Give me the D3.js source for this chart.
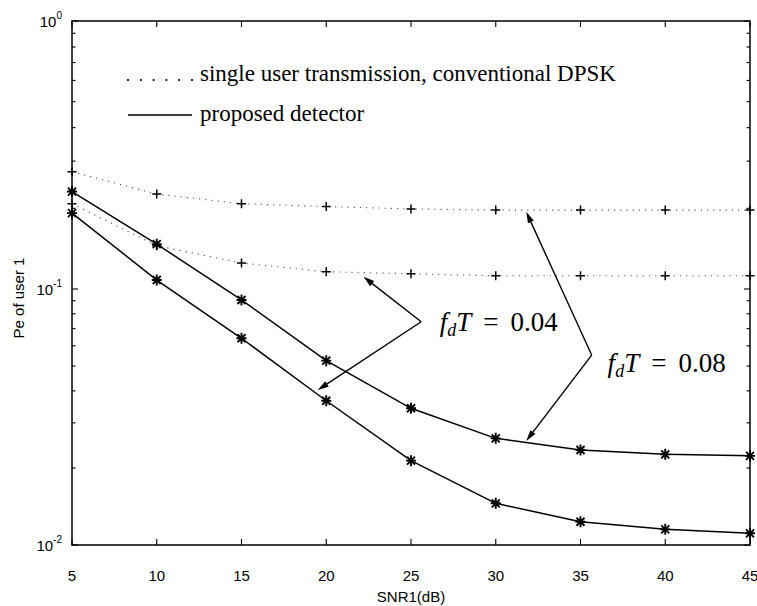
<!DOCTYPE html>
<html>
<head>
<meta charset="utf-8">
<script src="https://cdn.jsdelivr.net/npm/d3@7"></script>
<style>
  body { margin: 0; background: #fff; }
  svg { display: block; }
</style>
</head>
<body>
<svg id="chart" width="757" height="606"></svg>
<script>
// SNR of user 1 (dB)
const snr = [5, 10, 15, 20, 25, 30, 35, 40, 45];

// Bit error probability of user 1
const conventional008 = [0.274, 0.226, 0.208, 0.203, 0.199, 0.197, 0.197, 0.197, 0.197];
const conventional004 = [0.208, 0.145, 0.125, 0.116, 0.114, 0.112, 0.112, 0.112, 0.112];
const proposed008 = [0.231, 0.147, 0.0906, 0.0525, 0.0342, 0.0261, 0.0235, 0.0226, 0.0223];
const proposed004 = [0.192, 0.108, 0.0642, 0.0366, 0.02135, 0.01455, 0.01233, 0.01151, 0.01111];

const xTicks = [5, 10, 15, 20, 25, 30, 35, 40, 45];
const yDecades = [1, 0.1, 0.01];
const yExponents = ["0", "-1", "-2"];
const legendLabels = ["single user transmission, conventional DPSK", "proposed detector"];
const fdValues = ["0.04", "0.08"];

// Callouts, in data units: where the label sits, the elbow, and the two arrow tips
const calloutText = [[26.7, 0.074], [36.6, 0.0514]];
const calloutElbow = [[25.6, 0.0745], [35.66, 0.0552]];
const calloutTips = [
  [[22.2, 0.111], [19.5, 0.0403]],
  [[31.8, 0.194], [31.8, 0.0255]]
];

const svg = d3.select("#chart");
const plotLeft = 72, plotRight = 750, plotTop = 21, plotBottom = 545;

const x = d3.scaleLinear().domain([5, 45]).range([plotLeft, plotRight]);
// log axis; the two decades are laid out one after the other
const y = d3.scaleLog().domain([0.01, 0.1, 1]).range([plotBottom, 289, plotTop]);

const sans = "'Liberation Sans', Arial, Helvetica, sans-serif";
const serif = "'Liberation Serif', 'Times New Roman', serif";

// frame
svg.append("rect")
  .attr("x", plotLeft).attr("y", plotTop)
  .attr("width", plotRight - plotLeft).attr("height", plotBottom - plotTop)
  .attr("fill", "none").attr("stroke", "#000").attr("stroke-width", 1.5);

const ticks = svg.append("g").attr("stroke", "#000").attr("stroke-width", 1.1);

// x ticks, bottom and top, pointing inward
xTicks.forEach(v => {
  const px = x(v);
  ticks.append("line").attr("x1", px).attr("x2", px).attr("y1", plotBottom).attr("y2", plotBottom - 6);
  ticks.append("line").attr("x1", px).attr("x2", px).attr("y1", plotTop).attr("y2", plotTop + 6);
});

// y ticks: decades and minor ticks, on both sides
const minor = [];
[0.01, 0.1].forEach(d => { for (let k = 2; k <= 9; k++) minor.push(d * k); });
yDecades.forEach(v => {
  const py = y(v);
  ticks.append("line").attr("x1", plotLeft).attr("x2", plotLeft + 6).attr("y1", py).attr("y2", py);
  ticks.append("line").attr("x1", plotRight).attr("x2", plotRight - 6).attr("y1", py).attr("y2", py);
});
minor.forEach(v => {
  const py = y(v);
  ticks.append("line").attr("x1", plotLeft).attr("x2", plotLeft + 3.5).attr("y1", py).attr("y2", py);
  ticks.append("line").attr("x1", plotRight).attr("x2", plotRight - 3.5).attr("y1", py).attr("y2", py);
});

// x tick labels
svg.append("g").selectAll("text").data(xTicks).join("text")
  .attr("x", d => x(d)).attr("y", 581)
  .attr("text-anchor", "middle")
  .attr("font-family", sans).attr("font-size", 15)
  .text(d => d);

// y tick labels, 10 with a raised exponent
yDecades.forEach((v, i) => {
  const t = svg.append("text")
    .attr("x", 62).attr("y", y(v) + 6)
    .attr("text-anchor", "end")
    .attr("font-family", sans).attr("font-size", 15);
  t.append("tspan").text("10");
  t.append("tspan").attr("font-size", 10).attr("dy", -8).text(yExponents[i]);
});

// axis titles
svg.append("text")
  .attr("x", (plotLeft + plotRight) / 2).attr("y", 602)
  .attr("text-anchor", "middle")
  .attr("font-family", sans).attr("font-size", 15)
  .text("SNR1(dB)");
svg.append("text")
  .attr("transform", "translate(24,298) rotate(-90)")
  .attr("text-anchor", "middle")
  .attr("font-family", sans).attr("font-size", 15)
  .text("Pe of user 1");

const line = d3.line().x(d => x(d[0])).y(d => y(d[1]));
const zipped = vals => snr.map((s, i) => [s, vals[i]]);

const plot = svg.append("g");

// conventional DPSK: dotted with + markers
[conventional008, conventional004].forEach(vals => {
  plot.append("path")
    .attr("d", line(zipped(vals)))
    .attr("fill", "none").attr("stroke", "#555")
    .attr("stroke-width", 1.1).attr("stroke-dasharray", "1.2,5");
  plot.append("g").selectAll("path").data(zipped(vals)).join("path")
    .attr("transform", d => `translate(${x(d[0])},${y(d[1])})`)
    .attr("d", "M-4.5,0H4.5M0,-4.5V4.5")
    .attr("stroke", "#000").attr("stroke-width", 1.5);
});

// proposed detector: solid with * markers
[proposed008, proposed004].forEach(vals => {
  plot.append("path")
    .attr("d", line(zipped(vals)))
    .attr("fill", "none").attr("stroke", "#000").attr("stroke-width", 1.5);
  plot.append("g").selectAll("path").data(zipped(vals)).join("path")
    .attr("transform", d => `translate(${x(d[0])},${y(d[1])})`)
    .attr("d", "M-5,0H5M0,-5.5V5.5M-4,-4L4,4M-4,4L4,-4")
    .attr("stroke", "#000").attr("stroke-width", 1.9);
});

// legend
const legend = svg.append("g");
legend.append("line")
  .attr("x1", 128).attr("x2", 193).attr("y1", 80).attr("y2", 80)
  .attr("stroke", "#000").attr("stroke-width", 2.2)
  .attr("stroke-linecap", "round").attr("stroke-dasharray", "0,12.8");
legend.append("line")
  .attr("x1", 128).attr("x2", 192).attr("y1", 115).attr("y2", 115)
  .attr("stroke", "#000").attr("stroke-width", 1.4);
legendLabels.forEach((txt, i) => {
  legend.append("text")
    .attr("x", 200).attr("y", i === 0 ? 81 : 121)
    .attr("font-family", serif).attr("font-size", 23)
    .text(txt);
});

// f_d T callouts with arrows
function arrow(g, from, to) {
  const [x0, y0] = from, [x1, y1] = to;
  const a = Math.atan2(y1 - y0, x1 - x0);
  const len = 11, half = 3.2;
  g.append("line")
    .attr("x1", x0).attr("y1", y0)
    .attr("x2", x1 - Math.cos(a) * len * 0.6).attr("y2", y1 - Math.sin(a) * len * 0.6)
    .attr("stroke", "#000").attr("stroke-width", 1.4);
  const bx = x1 - Math.cos(a) * len, by = y1 - Math.sin(a) * len;
  g.append("path")
    .attr("d", `M${x1},${y1}L${bx - Math.sin(a) * half},${by + Math.cos(a) * half}L${bx + Math.sin(a) * half},${by - Math.cos(a) * half}Z`)
    .attr("fill", "#000");
}

const callouts = svg.append("g");
fdValues.forEach((val, i) => {
  const elbow = [x(calloutElbow[i][0]), y(calloutElbow[i][1])];
  calloutTips[i].forEach(tip => arrow(callouts, elbow, [x(tip[0]), y(tip[1])]));
  const t = callouts.append("text")
    .attr("x", x(calloutText[i][0])).attr("y", y(calloutText[i][1]) + 9)
    .attr("font-family", serif).attr("font-size", 27);
  t.append("tspan").attr("font-style", "italic").text("f");
  t.append("tspan").attr("font-style", "italic").attr("font-size", 18).attr("dy", 5).text("d");
  t.append("tspan").attr("font-style", "italic").attr("dy", -5).text("T");
  t.append("tspan").attr("dx", 12).text("=");
  t.append("tspan").attr("dx", 12).text(val);
});
</script>
</body>
</html>
